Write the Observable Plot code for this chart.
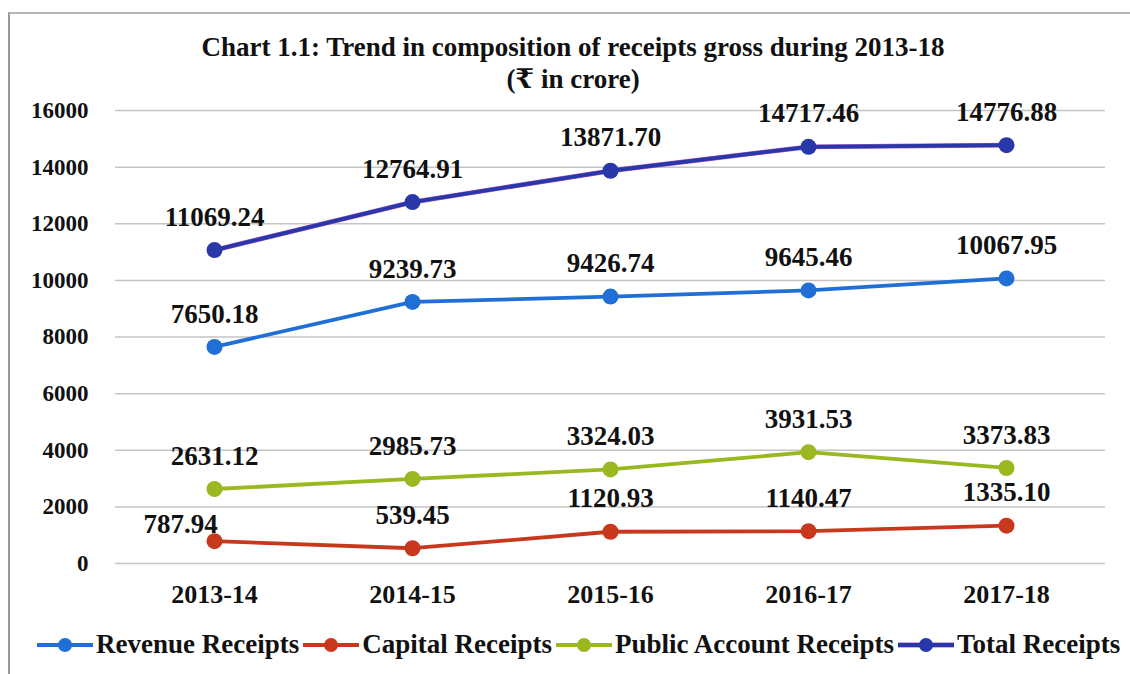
<!DOCTYPE html>
<html>
<head>
<meta charset="utf-8">
<script src="https://cdn.jsdelivr.net/npm/d3@7"></script>
<script src="https://cdn.jsdelivr.net/npm/@observablehq/plot@0.6"></script>
<style>
  html, body { margin: 0; padding: 0; background: #fff; }
  body { width: 1130px; height: 674px; overflow: hidden; position: relative; font-family: "Liberation Serif", "DejaVu Serif", serif; font-weight: bold; color: #111; }
  #frame { position: absolute; left: 8px; top: 12px; width: 1140px; height: 680px; border-left: 2px solid #9a9a9a; border-top: 2px solid #b5b5b5; }
  #title { position: absolute; left: 0; width: 1146px; top: 31px; text-align: center; font-size: 27px; line-height: 32px; }
  #chart { position: absolute; left: 0; top: 95px; }
  #legend { position: absolute; left: 36px; top: 629px; display: flex; align-items: center; font-size: 27px; white-space: nowrap; }
  #legend .item { display: flex; align-items: center; margin-right: 3px; }
  #legend svg { margin-right: 2px; }
</style>
</head>
<body>
<div id="frame"></div>
<div id="title">Chart 1.1: Trend in composition of receipts gross during 2013-18<br>(₹ in crore)</div>
<div id="chart"></div>
<div id="legend"></div>
<script>
const years = ["2013-14", "2014-15", "2015-16", "2016-17", "2017-18"];
const revenueReceipts = [7650.18, 9239.73, 9426.74, 9645.46, 10067.95];
const capitalReceipts = [787.94, 539.45, 1120.93, 1140.47, 1335.10];
const publicAccountReceipts = [2631.12, 2985.73, 3324.03, 3931.53, 3373.83];
const totalReceipts = [11069.24, 12764.91, 13871.70, 14717.46, 14776.88];
const seriesNames = ["Revenue Receipts", "Capital Receipts", "Public Account Receipts", "Total Receipts"];
const seriesColors = ["#1f6fd6", "#c8381c", "#9ab920", "#2838a8"];
const yTicks = [0, 2000, 4000, 6000, 8000, 10000, 12000, 14000, 16000];

const allSeries = [revenueReceipts, capitalReceipts, publicAccountReceipts, totalReceipts];
const data = [];
allSeries.forEach((vals, si) => vals.forEach((v, i) => data.push({series: seriesNames[si], year: years[i], value: v, idx: i})));

const fmt = v => v.toFixed(2);
const labelData = data.filter(d => !(d.series === "Capital Receipts" && d.idx === 0));
const shiftedLabel = data.filter(d => d.series === "Capital Receipts" && d.idx === 0);

const plot = Plot.plot({
  width: 1130,
  height: 525,
  marginTop: 15,
  marginBottom: 57,
  marginLeft: 115,
  marginRight: 25,
  x: {domain: years, type: "point", padding: 0.5, label: null},
  y: {domain: [0, 16000], label: null},
  color: {domain: seriesNames, range: seriesColors},
  style: {fontFamily: "'Liberation Serif', 'DejaVu Serif', serif", fontWeight: "bold", color: "#111", background: "transparent"},
  marks: [
    Plot.ruleY(yTicks, {stroke: "#c4c4c4", strokeWidth: 1.5}),
    Plot.axisY({ticks: yTicks, tickSize: 0, tickPadding: 27, tickFormat: d => String(d), fontSize: 23, fontWeight: "bold", fill: "#111"}),
    Plot.axisX({tickSize: 0, tickPadding: 21, fontSize: 26, fontWeight: "bold", fill: "#111"}),
    Plot.line(data.filter(d => d.series === "Total Receipts"), {x: "year", y: "value", stroke: "#b45ac8", strokeWidth: 4.8}),
    Plot.line(data, {x: "year", y: "value", z: "series", stroke: "series", strokeWidth: 3.8}),
    Plot.dot(data, {x: "year", y: "value", fill: "series", r: 8}),
    Plot.text(labelData, {x: "year", y: "value", text: d => fmt(d.value), dy: -33, fontSize: 27, fontWeight: "bold", fill: "#111"}),
    Plot.text(shiftedLabel, {x: "year", y: "value", text: d => fmt(d.value), dy: -17, dx: -34, fontSize: 27, fontWeight: "bold", fill: "#111"})
  ]
});
document.getElementById("chart").appendChild(plot);

const legend = document.getElementById("legend");
seriesNames.forEach((name, i) => {
  const item = document.createElement("div");
  item.className = "item";
  const ns = "http://www.w3.org/2000/svg";
  const s = document.createElementNS(ns, "svg");
  s.setAttribute("width", 58); s.setAttribute("height", 20);
  if (i === 3) {
    const l0 = document.createElementNS(ns, "line");
    l0.setAttribute("x1", 1); l0.setAttribute("x2", 57); l0.setAttribute("y1", 10); l0.setAttribute("y2", 10);
    l0.setAttribute("stroke", "#b45ac8"); l0.setAttribute("stroke-width", 5);
    s.appendChild(l0);
  }
  const l = document.createElementNS(ns, "line");
  l.setAttribute("x1", 1); l.setAttribute("x2", 57); l.setAttribute("y1", 10); l.setAttribute("y2", 10);
  l.setAttribute("stroke", seriesColors[i]); l.setAttribute("stroke-width", 4);
  const c = document.createElementNS(ns, "circle");
  c.setAttribute("cx", 29); c.setAttribute("cy", 10); c.setAttribute("r", 7); c.setAttribute("fill", seriesColors[i]);
  s.appendChild(l); s.appendChild(c);
  const t = document.createElement("span");
  t.textContent = name;
  item.appendChild(s); item.appendChild(t);
  legend.appendChild(item);
});
</script>
</body>
</html>
